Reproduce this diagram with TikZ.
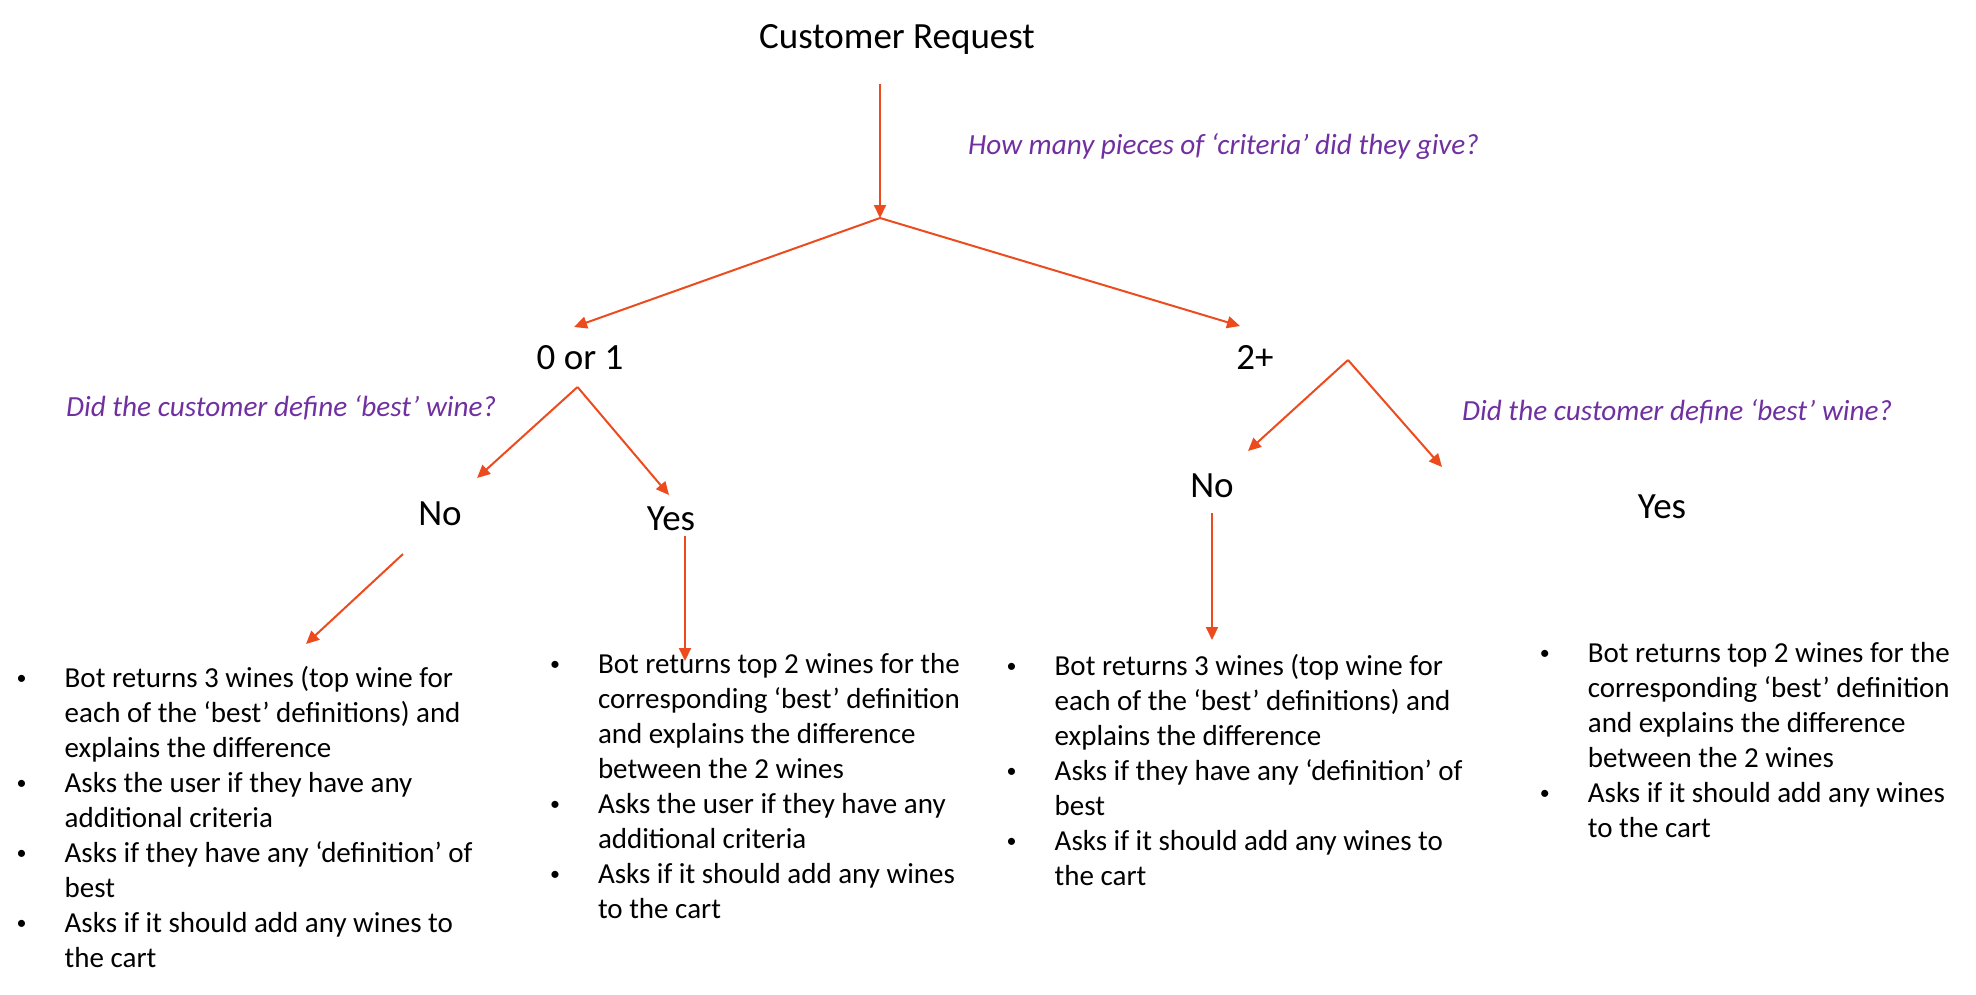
\documentclass[tikz,border=0pt]{standalone}
\usepackage{fontspec}
\setmainfont{Carlito}
\usetikzlibrary{arrows.meta}
\definecolor{flowred}{HTML}{EC4B1E}
\definecolor{askpurple}{HTML}{7030A0}
\newcommand{\bul}{\makebox[43pt][l]{\makebox[0pt]{\raisebox{3pt}{\fontsize{20}{20}\selectfont\textbullet}}}}

\begin{document}
\begin{tikzpicture}[x=1pt, y=-1pt, >={Triangle[length=13pt, width=12pt]},
    answer/.style={inner sep=0pt, anchor=base, font=\fontsize{37}{44}\selectfont},
    query/.style={inner sep=0pt, anchor=base west, text=askpurple, font=\fontsize{29.2}{35}\selectfont\itshape},
    actions/.style={inner sep=0pt, anchor=base west, font=\fontsize{29}{35}\selectfont},
    flow/.style={->, flowred, line width=2pt}]
  \useasboundingbox (0,0) rectangle (1976,994);
  % Request and first split
  \node[answer] (request) at (897, 48) {Customer Request};
  \node[query] (critq) at (968, 154) {How many pieces of ‘criteria’ did they give?};
  \node[answer] (fewcrit) at (580, 369) {0 or 1};
  \node[answer] (manycrit) at (1255, 369) {2+};
  % Did they define best
  \node[query] (bestql) at (66, 416) {Did the customer define ‘best’ wine?};
  \node[query] (bestqr) at (1462, 420) {Did the customer define ‘best’ wine?};
  \node[answer] (fewno) at (440, 525) {No};
  \node[answer] (fewyes) at (671, 530) {Yes};
  \node[answer] (manyno) at (1212, 497) {No};
  \node[answer] (manyyes) at (1662, 518) {Yes};
  % What the bot does
  \node[actions] (listfewno) at (21.5, 687.7) {\begin{tabular}[t]{@{}l@{}l@{}}
      \bul & Bot returns 3 wines (top wine for\\
           & each of the ‘best’ definitions) and\\
           & explains the difference\\
      \bul & Asks the user if they have any\\
           & additional criteria\\
      \bul & Asks if they have any ‘definition’ of\\
           & best\\
      \bul & Asks if it should add any wines to\\
           & the cart
    \end{tabular}};
  \node[actions] (listfewyes) at (554.8, 673.3) {\begin{tabular}[t]{@{}l@{}l@{}}
      \bul & Bot returns top 2 wines for the\\
           & corresponding ‘best’ definition\\
           & and explains the difference\\
           & between the 2 wines\\
      \bul & Asks the user if they have any\\
           & additional criteria\\
      \bul & Asks if it should add any wines\\
           & to the cart
    \end{tabular}};
  \node[actions] (listmanyno) at (1011.5, 675) {\begin{tabular}[t]{@{}l@{}l@{}}
      \bul & Bot returns 3 wines (top wine for\\
           & each of the ‘best’ definitions) and\\
           & explains the difference\\
      \bul & Asks if they have any ‘definition’ of\\
           & best\\
      \bul & Asks if it should add any wines to\\
           & the cart
    \end{tabular}};
  \node[actions] (listmanyyes) at (1544.7, 662.3) {\begin{tabular}[t]{@{}l@{}l@{}}
      \bul & Bot returns top 2 wines for the\\
           & corresponding ‘best’ definition\\
           & and explains the difference\\
           & between the 2 wines\\
      \bul & Asks if it should add any wines\\
           & to the cart
    \end{tabular}};
  % Connector ends
  \coordinate (reqout) at (880, 84);
  \coordinate (split) at (880, 218);
  \coordinate (fewin) at (574, 327);
  \coordinate (manyin) at (1240, 326);
  \coordinate (fewout) at (577.5, 387);
  \coordinate (fewnoin) at (477, 478);
  \coordinate (fewyesin) at (669, 495);
  \coordinate (fewnoout) at (403, 554);
  \coordinate (listfewnoin) at (306, 644);
  \coordinate (fewyesout) at (685, 536);
  \coordinate (listfewyesin) at (685, 661);
  \coordinate (manyout) at (1348, 360);
  \coordinate (manynoin) at (1248, 451);
  \coordinate (manyyesin) at (1442, 467);
  \coordinate (manynoout) at (1212, 513);
  \coordinate (listmanynoin) at (1212, 640);
  % Arrows
  \draw[flow] (reqout) -- (split);
  \draw[flow] (split) -- (fewin);
  \draw[flow] (split) -- (manyin);
  \draw[flow] (fewout) -- (fewnoin);
  \draw[flow] (fewout) -- (fewyesin);
  \draw[flow] (fewnoout) -- (listfewnoin);
  \draw[flow] (fewyesout) -- (listfewyesin);
  \draw[flow] (manyout) -- (manynoin);
  \draw[flow] (manyout) -- (manyyesin);
  \draw[flow] (manynoout) -- (listmanynoin);
\end{tikzpicture}
\end{document}
